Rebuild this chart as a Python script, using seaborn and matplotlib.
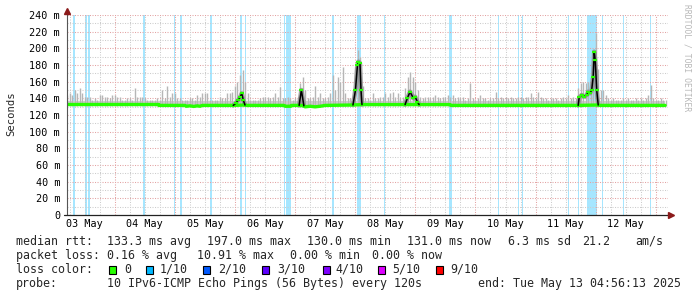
import numpy as np
import matplotlib
matplotlib.use("Agg")
import matplotlib.pyplot as plt
import seaborn as sns
from matplotlib.lines import Line2D
from matplotlib.patches import Rectangle

# ---------------- data (hours since 2025-05-03 00:00) ----------------
smoke_start_hour = 5
smoke_top = [
    144, 146, 144, 150, 146, 152, 146, 142, 142, 142, 138, 140, 138, 144, 144, 142, 142, 140, 144, 144, 142, 142, 138, 138,
    140, 140, 138, 152, 142, 142, 142, 140, 138, 138, 138, 138, 140, 138, 150, 140, 155, 142, 146, 146, 140, 140, 138, 138,
    138, 140, 140, 138, 144, 142, 146, 146, 146, 138, 138, 138, 138, 142, 140, 140, 146, 146, 148, 155, 160, 168, 174, 160,
    146, 138, 138, 138, 138, 140, 142, 142, 142, 140, 142, 146, 142, 154, 140, 140, 142, 140, 138, 140, 142, 158, 165, 150,
    140, 140, 142, 155, 142, 146, 140, 140, 142, 146, 168, 150, 165, 160, 177, 146, 140, 140, 150, 178, 198, 190, 155, 140,
    140, 138, 146, 140, 140, 142, 142, 146, 142, 146, 148, 142, 146, 140, 142, 152, 165, 172, 165, 160, 150, 142, 140, 142,
    142, 140, 142, 144, 142, 140, 142, 142, 144, 142, 144, 140, 142, 140, 142, 138, 140, 158, 140, 138, 140, 144, 140, 140,
    138, 140, 140, 148, 140, 142, 140, 142, 140, 142, 140, 140, 142, 142, 140, 142, 142, 146, 142, 140, 148, 142, 140, 140,
    138, 140, 140, 140, 138, 140, 142, 140, 144, 140, 142, 140, 152, 158, 160, 158, 160, 165, 190, 218, 175, 150, 150, 144,
    140, 138, 140, 138, 138, 138, 140, 138, 140, 138, 138, 140, 138, 140, 138, 140, 144, 156, 140, 138, 138, 140, 138, 138,
]
smoke_floor = 131.0
smoke_band_top = 137.0

med_t = [4.94, 41.5, 41.7, 52.0, 52.5, 54.0, 55.5, 57.0, 58.0, 59.0, 71.3, 72.3, 73.3, 74.0, 74.7,
         75.3, 76.0, 76.5, 91.6, 92.0, 94.3, 94.6, 97.6, 98.5, 99.5, 100.0, 102.0, 104.0, 106.0,
         108.0, 119.1, 120.1, 120.9, 121.3, 121.9, 122.3, 122.7, 139.9, 140.8, 141.9, 143.2, 143.9,
         144.8, 145.5, 157.8, 158.2, 209.0, 209.4, 210.4, 211.3, 212.4, 213.0, 213.7, 214.4, 215.0,
         215.4, 215.8, 216.4, 217.0, 217.5, 243.7]
med_v = [132.6, 132.6, 131.5, 131.5, 130.5, 131.0, 130.3, 131.0, 130.5, 131.5, 131.5, 134, 138, 141, 146,
         138, 132, 131.5, 131.5, 130.5, 130.5, 131.5, 131.5, 150, 131, 129.8, 130.5, 129.8, 130.5,
         131.5, 132.0, 150, 180, 184, 182, 150, 132.5, 132.5, 140, 148, 140, 142,
         136, 132.5, 132.5, 131.5, 131.5, 141, 144, 142, 144, 148, 146, 150, 166,
         196, 186, 150, 132, 131.5, 131.5]
spike_windows = [(71.3, 76.0), (97.6, 99.5), (119.1, 122.7), (139.9, 145.5), (209.0, 217.0)]

loss_start = [7.5, 12.1, 13.5, 35.4, 47.5, 50.2, 62.2, 74.2, 75.9, 91.7, 92.5, 110.9, 120.8, 131.3,
              157.5, 176.9, 184.9, 186.4, 204.8, 208.8, 212.6, 218.5, 226.8, 237.7]
loss_end = [8.0, 13.0, 14.0, 35.9, 48.0, 50.7, 62.7, 74.7, 76.4, 92.1, 94.2, 111.4, 122.2, 131.8,
            158.5, 177.4, 185.4, 186.9, 205.3, 209.3, 216.7, 219.0, 227.3, 238.2]

y_ticks = [0, 20, 40, 60, 80, 100, 120, 140, 160, 180, 200, 220, 240]
y_labels = ["0", "20 m", "40 m", "60 m", "80 m", "100 m", "120 m", "140 m", "160 m",
            "180 m", "200 m", "220 m", "240 m"]
day_noons = [12, 36, 60, 84, 108, 132, 156, 180, 204, 228]
day_labels = ["03 May", "04 May", "05 May", "06 May", "07 May", "08 May", "09 May",
              "10 May", "11 May", "12 May"]

loss_names = ["0", "1/10", "2/10", "3/10", "4/10", "5/10", "9/10"]
loss_colors = ["#26ff00", "#00b8ff", "#0059ff", "#5e00ff", "#7e00ff", "#dd00ff", "#ff0000"]

row1 = [("median rtt:", 16), ("133.3 ms avg", 107), ("197.0 ms max", 207), ("130.0 ms min", 307),
        ("131.0 ms now", 407), ("6.3 ms sd", 508), ("21.2", 582), ("am/s", 635)]
row2 = [("packet loss:", 16), ("0.16 % avg", 107), ("10.91 % max", 197), ("0.00 % min", 290),
        ("0.00 % now", 372)]
row4 = [("probe:", 16), ("10 IPv6-ICMP Echo Pings (56 Bytes) every 120s", 107),
        ("end: Tue May 13 04:56:13 2025", 478)]
sq_x = [109, 146, 203, 262, 323, 378, 436]
lab_x = [124, 160, 218, 277, 335, 392, 450]

# ---------------- figure ----------------
sns.set_theme(style="white")
plt.rcParams['font.family'] = ['DejaVu Sans Mono']
W, H = 697, 297
fig = plt.figure(figsize=(W / 100, H / 100), dpi=100)
fig.patch.set_facecolor("white")
ax = fig.add_axes([67 / W, 82 / H, 601 / W, 200 / H])
ax.set_facecolor("white")
x0 = 4.94
x1 = x0 + 601 / 2.505
ax.set_xlim(x0, x1)
ax.set_ylim(0, 240)
for s in ax.spines.values():
    s.set_visible(False)

# loss bands
for a, b in zip(loss_start, loss_end):
    ax.axvspan(a, b, color="#00b8ff", alpha=0.35, lw=0, zorder=1)

# grid
for yv in range(10, 250, 10):
    major = yv % 20 == 0
    ax.axhline(yv, color="#e3a3a3" if major else "#cccccc", lw=0.75,
               ls=(0, (1, 1.4)), zorder=2)
for hv in range(6, 246, 6):
    if x0 < hv < x1:
        major = hv % 24 == 0
        ax.axvline(hv, color="#e3a3a3" if major else "#cccccc", lw=0.75,
                   ls=(0, (1, 1.4)), zorder=2)

# smoke
st = np.array([smoke_start_hour + i for i in range(len(smoke_top))], dtype=float)
ax.fill_between([x0, med_t[-1]], smoke_floor, smoke_band_top, color="#cfcfcf", lw=0, zorder=3)
ax.vlines(st, smoke_floor, smoke_top, color="#b6b6b6", lw=1.0, zorder=3)

# median
mt = np.array(med_t)
mv = np.array(med_v)
inside = np.zeros(len(mt), dtype=bool)
for a, b in spike_windows:
    inside |= (mt > a) & (mt < b)
mv_green = np.where(inside, np.nan, mv)
for a, b in spike_windows:
    m = (mt >= a) & (mt <= b)
    ax.plot(mt[m], mv[m], color="#8c8c8c", lw=3.2, zorder=4, alpha=0.8)
sns.lineplot(x=mt, y=mv_green, ax=ax, color="#26ff00", lw=2.4, sort=False, estimator=None, zorder=5)
for a, b in spike_windows:
    m = (mt >= a) & (mt <= b)
    ax.plot(mt[m], mv[m], color="black", lw=1.1, zorder=6)
    ax.plot(mt[m][1:-1], mv[m][1:-1], ls="none", marker="_", ms=2.2, mew=1.6, color="#26ff00", zorder=7)

# ticks
ax.set_yticks(y_ticks)
ax.set_yticklabels(y_labels)
ax.set_xticks(day_noons)
ax.set_xticklabels(day_labels)
ax.tick_params(axis="both", length=0, labelsize=7.3, colors="#000000")
ax.tick_params(axis="y", pad=5)
ax.tick_params(axis="x", pad=3)
ax.set_xlabel("")
ax.set_ylabel("")

# axis lines with arrows
fig.add_artist(Line2D([67 / W, 67 / W], [1 - 215 / H, 1 - 11 / H], color="#555555", lw=0.8))
fig.add_artist(Line2D([64 / W, 671 / W], [1 - 215 / H, 1 - 215 / H], color="#222222", lw=0.9))
fig.add_artist(Line2D([67 / W], [1 - 11 / H], marker="^", ms=4.5, color="#8b1a1a", lw=0))
fig.add_artist(Line2D([670.5 / W], [1 - 215 / H], marker=">", ms=4.5, color="#8b1a1a", lw=0))

# texts
fig.text(11 / W, 1 - 114 / H, "Seconds", rotation=90, ha="center", va="center", fontsize=7.6)
fig.text(687 / W, 1 - 4 / H, "RRDTOOL / TOBI OETIKER", rotation=270, ha="center", va="top",
         fontsize=5.8, color="#b8b8b8")

LS = 8.4
for s, x in row1:
    fig.text(x / W, 1 - 241.5 / H, s, ha="left", va="center", fontsize=LS)
for s, x in row2:
    fig.text(x / W, 1 - 255.5 / H, s, ha="left", va="center", fontsize=LS)
fig.text(16 / W, 1 - 269.3 / H, "loss color:", ha="left", va="center", fontsize=LS)
for name, c, sx, lx in zip(loss_names, loss_colors, sq_x, lab_x):
    fig.add_artist(Rectangle((sx / W, 1 - 273.5 / H), 7 / W, 8 / H, facecolor=c,
                             edgecolor="black", lw=0.8, transform=fig.transFigure))
    fig.text(lx / W, 1 - 269.3 / H, name, ha="left", va="center", fontsize=LS)
for s, x in row4:
    fig.text(x / W, 1 - 283 / H, s, ha="left", va="center", fontsize=LS)

fig.savefig("out.png", dpi=100, facecolor="white")
